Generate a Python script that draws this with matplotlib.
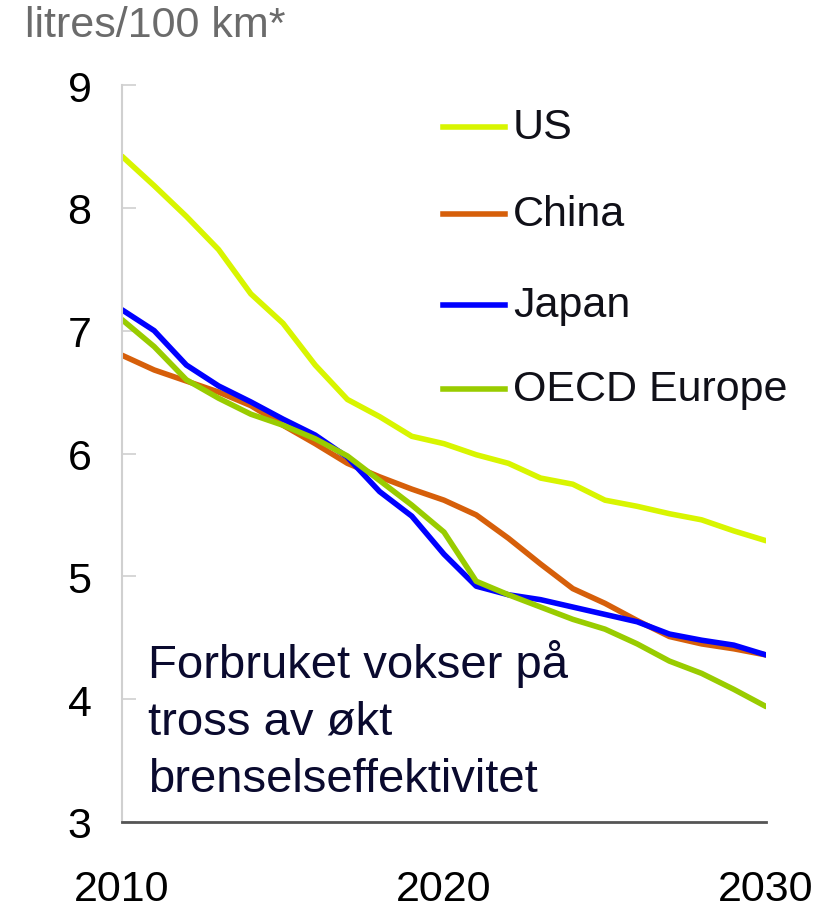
import matplotlib.pyplot as plt
from matplotlib.lines import Line2D

# Data (litres/100 km)
years = list(range(2010, 2031))
us = [8.42, 8.18, 7.93, 7.66, 7.30, 7.06, 6.72, 6.44, 6.30, 6.14, 6.08,
      5.99, 5.92, 5.80, 5.75, 5.62, 5.57, 5.51, 5.46, 5.37, 5.29]
china = [6.80, 6.68, 6.59, 6.50, 6.39, 6.23, 6.08, 5.92, 5.81, 5.71, 5.62,
         5.50, 5.31, 5.10, 4.90, 4.78, 4.64, 4.51, 4.45, 4.41, 4.36]
japan = [7.17, 7.00, 6.72, 6.55, 6.42, 6.28, 6.15, 5.97, 5.69, 5.49, 5.18,
         4.92, 4.85, 4.81, 4.75, 4.69, 4.63, 4.53, 4.48, 4.44, 4.36]
europe = [7.09, 6.87, 6.60, 6.45, 6.32, 6.23, 6.12, 5.98, 5.78, 5.58, 5.36,
          4.96, 4.85, 4.75, 4.65, 4.57, 4.45, 4.31, 4.21, 4.08, 3.94]

series = [("US", us, "#d8f500"),
          ("China", china, "#d65f0a"),
          ("Japan", japan, "#0000ff"),
          ("OECD Europe", europe, "#99cc00")]

x_ticks = [2010, 2020, 2030]
y_ticks = [3, 4, 5, 6, 7, 8, 9]

plt.rcParams["font.family"] = ["Liberation Sans", "DejaVu Sans"]

fig = plt.figure(figsize=(8.29, 9.12), dpi=100)
ax = fig.add_axes([122 / 829, 89 / 912, 644 / 829, 737 / 912])

for name, vals, color in series:
    ax.plot(years, vals, color=color, lw=4, solid_capstyle="round", label=name)

ax.set_xlim(2010, 2030)
ax.set_ylim(3, 9)
ax.set_xticks(x_ticks)
ax.set_yticks(y_ticks)
ax.set_xticklabels([str(v) for v in x_ticks], fontsize=31)
ax.set_yticklabels([str(v) for v in y_ticks], fontsize=31)
ax.tick_params(axis="y", direction="in", length=10, width=1.2, color="#cfcfcf", pad=22)
ax.tick_params(axis="x", length=0, pad=34)

for s in ["top", "right"]:
    ax.spines[s].set_visible(False)
ax.spines["left"].set_color("#d0d0d0")
ax.spines["left"].set_linewidth(1.5)
ax.spines["bottom"].set_color("#555555")
ax.spines["bottom"].set_linewidth(2)

# Legend drawn by hand to match the reference layout
leg_y = [128, 215, 306, 390]
for (name, vals, color), py in zip(series, leg_y):
    yf = 1 - py / 912
    fig.add_artist(Line2D([443 / 829, 505 / 829], [yf, yf], color=color, lw=4,
                          transform=fig.transFigure))
    fig.text(513 / 829, yf, name, fontsize=31, color="#101018", va="center", ha="left")

fig.text(25 / 829, 1 - 26 / 912, "litres/100 km*", fontsize=31, color="#6b6b6b",
         va="center", ha="left")

fig.text(148 / 829, 1 - 640 / 912,
         "Forbruket vokser på\ntross av økt\nbrenselseffektivitet",
         fontsize=34, color="#0a0a2e", va="top", ha="left", linespacing=1.38)

fig.savefig("out.png", dpi=100)
